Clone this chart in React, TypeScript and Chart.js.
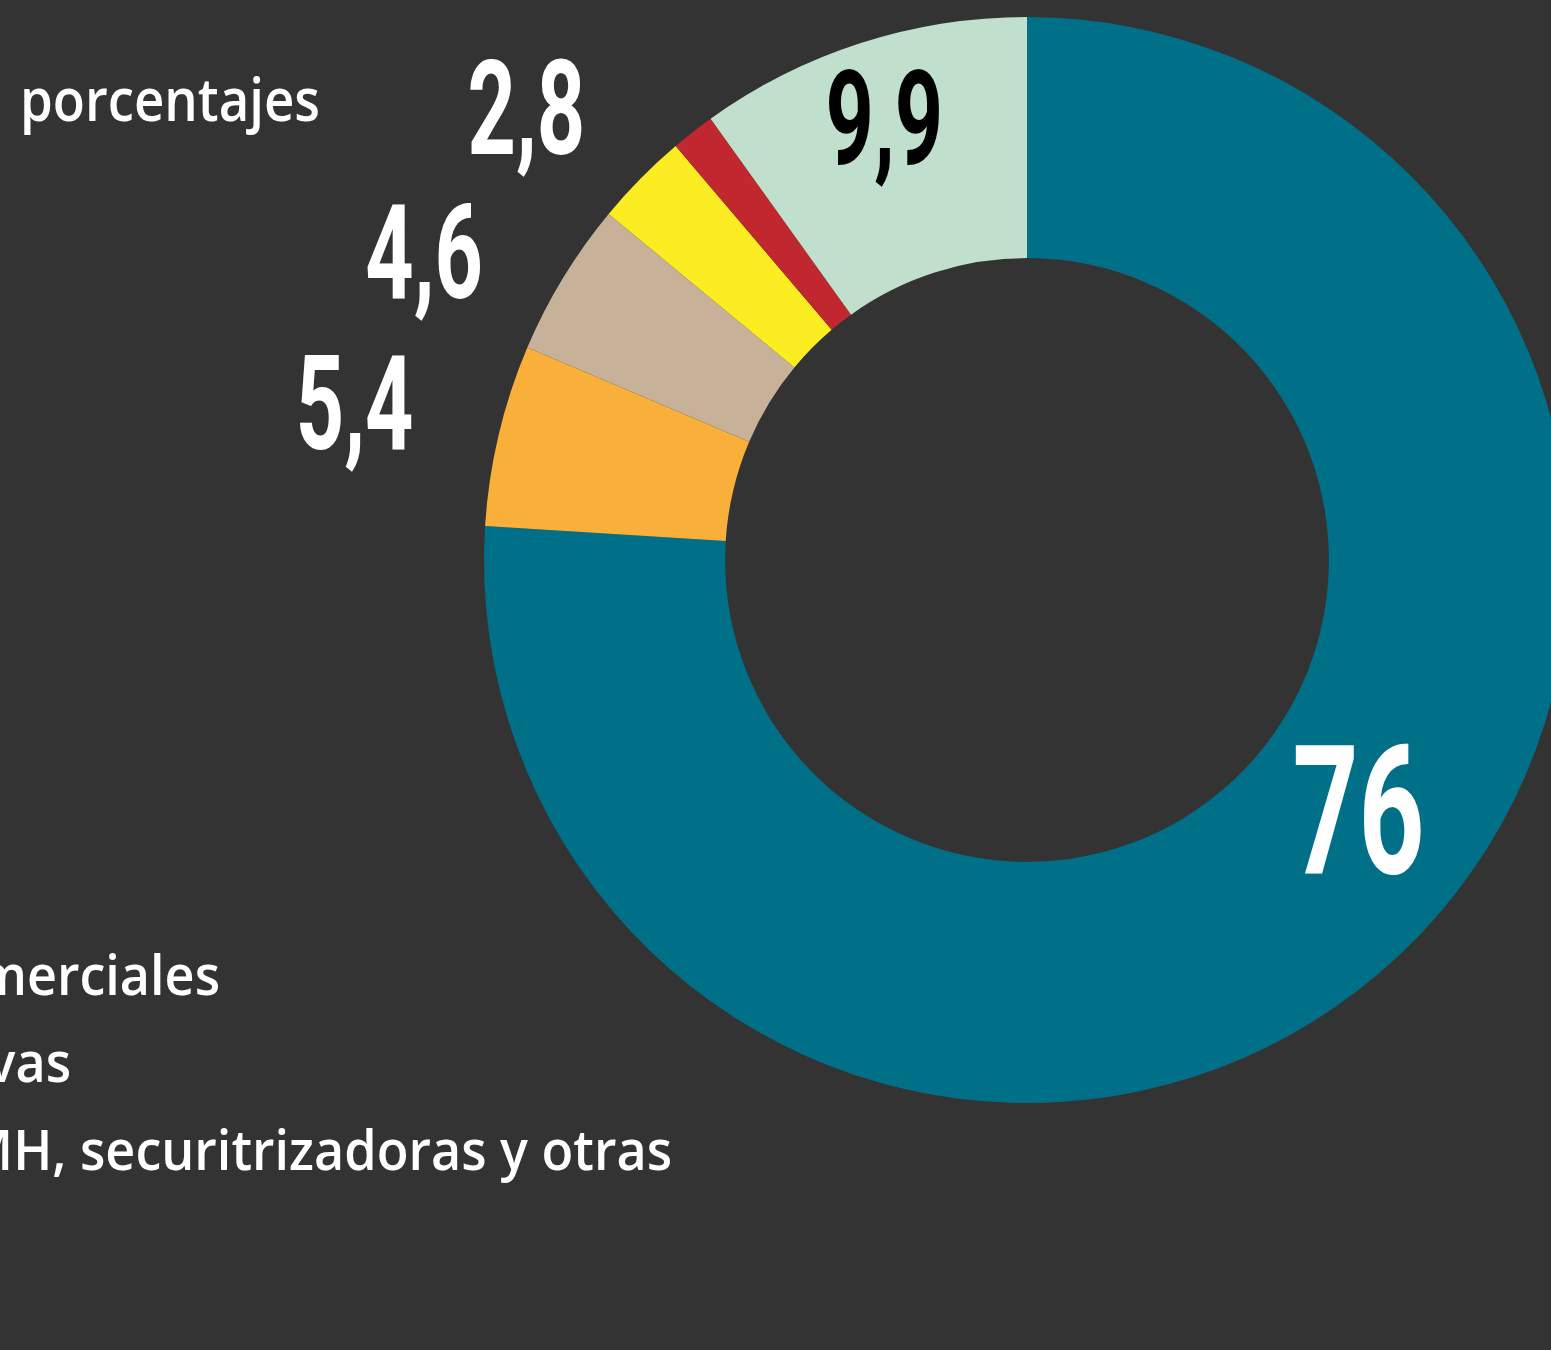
import React, { useEffect, useRef } from "react";
import { Chart, registerables } from "chart.js";

Chart.register(...registerables);

// ---- data ----
const categories = [
  "Bancos comerciales",
  "Cooperativas",
  "Compañías de seguros",
  "Cajas de compensación",
  "Otras",
  "AAMH, securitrizadoras y otras",
];
const shares = [76, 5.4, 4.6, 2.8, 1.3, 9.9];
const valueShown = [true, true, true, true, false, true];
const sliceColors = ["#007089", "#F9B03B", "#C7B199", "#FCEC22", "#C1272F", "#C1DFCD"];
const valueColors = ["#FFFFFF", "#FFFFFF", "#FFFFFF", "#FFFFFF", "#FFFFFF", "#000000"];
const titleText = "porcentajes";
const legendLines = ["Bancos comerciales", "Cooperativas", "AAMH, securitrizadoras y otras"];

// ---- styles / layout ----
const labelStyle = {
  radial: [0.465, 1.614, 1.56, 1.552, 0, 0.68],
  angleShift: [-10, 0, -4.1, -2.4, 0, 0],
  size: [180, 132, 132, 132, 0, 132],
  condense: 0.64,
};
const legendStyle = {
  right: [220, 71, 672],
  baseline: [995, 1082, 1170],
  size: 56,
  weight: 600,
  fitText: "securitrizadoras y otras",
  fitWidth: 592,
  titleX: 20,
  titleBaseline: 121,
  titleSize: 60,
  titleWidth: 300,
};

const fmt = (v: number) => String(v).replace(".", ",");

const overlayPlugin = {
  id: "overlay",
  afterDatasetsDraw(chart: any) {
    const ctx: CanvasRenderingContext2D = chart.ctx;
    const meta = chart.getDatasetMeta(0);
    meta.data.forEach((el: any, i: number) => {
      if (!valueShown[i]) return;
      const p = el.getProps(["x", "y", "startAngle", "endAngle", "innerRadius", "outerRadius"], true);
      const a = (p.startAngle + p.endAngle) / 2 + (labelStyle.angleShift[i] * Math.PI) / 180;
      const r = p.innerRadius + labelStyle.radial[i] * (p.outerRadius - p.innerRadius);
      const lx = p.x + r * Math.cos(a);
      const ly = p.y + r * Math.sin(a);
      ctx.save();
      ctx.font = `bold ${labelStyle.size[i]}px Roboto`;
      const asc = ctx.measureText("0").actualBoundingBoxAscent;
      ctx.translate(lx, ly + asc / 2);
      ctx.scale(labelStyle.condense, 1);
      ctx.textAlign = "center";
      ctx.textBaseline = "alphabetic";
      ctx.fillStyle = valueColors[i];
      ctx.fillText(fmt(shares[i]), 0, 0);
      ctx.restore();
    });

    // title
    ctx.save();
    ctx.font = `${legendStyle.weight} ${legendStyle.titleSize}px "Open Sans"`;
    const tm = ctx.measureText(titleText);
    const tScale = legendStyle.titleWidth / tm.width;
    ctx.fillStyle = "#FFFFFF";
    ctx.translate(legendStyle.titleX, legendStyle.titleBaseline);
    ctx.scale(tScale, 1);
    ctx.textAlign = "left";
    ctx.textBaseline = "alphabetic";
    ctx.fillText(titleText, 0, 0);
    ctx.restore();

    // legend lines (left part lies outside the visible page)
    ctx.save();
    ctx.font = `${legendStyle.weight} ${legendStyle.size}px "Open Sans"`;
    const fm = ctx.measureText(legendStyle.fitText);
    const lScale = legendStyle.fitWidth / fm.width;
    ctx.restore();
    legendLines.forEach((t, i) => {
      ctx.save();
      ctx.font = `${legendStyle.weight} ${legendStyle.size}px "Open Sans"`;
      ctx.fillStyle = "#FFFFFF";
      ctx.translate(legendStyle.right[i], legendStyle.baseline[i]);
      ctx.scale(lScale, 1);
      ctx.textAlign = "right";
      ctx.textBaseline = "alphabetic";
      ctx.fillText(t, 0, 0);
      ctx.restore();
    });
  },
};

export default function App() {
  const ref = useRef<HTMLCanvasElement>(null);
  useEffect(() => {
    const canvas = ref.current!;
    const chart = new Chart(canvas, {
      type: "doughnut",
      data: {
        labels: categories,
        datasets: [
          {
            data: shares,
            backgroundColor: sliceColors,
            borderWidth: 0,
          },
        ],
      },
      options: {
        responsive: false,
        animation: false,
        devicePixelRatio: 1,
        cutout: "55.6%",
        layout: { padding: { left: 484, right: 30, top: 17, bottom: 247 } },
        plugins: { legend: { display: false }, tooltip: { enabled: false } },
      },
      plugins: [overlayPlugin],
    });
    return () => chart.destroy();
  }, []);
  return (
    <div
      style={{
        position: "fixed",
        left: 0,
        top: 0,
        width: 1551,
        height: 1350,
        overflow: "hidden",
        background: "#333333",
      }}
    >
      <canvas ref={ref} width={1600} height={1350} style={{ display: "block" }} />
    </div>
  );
}
